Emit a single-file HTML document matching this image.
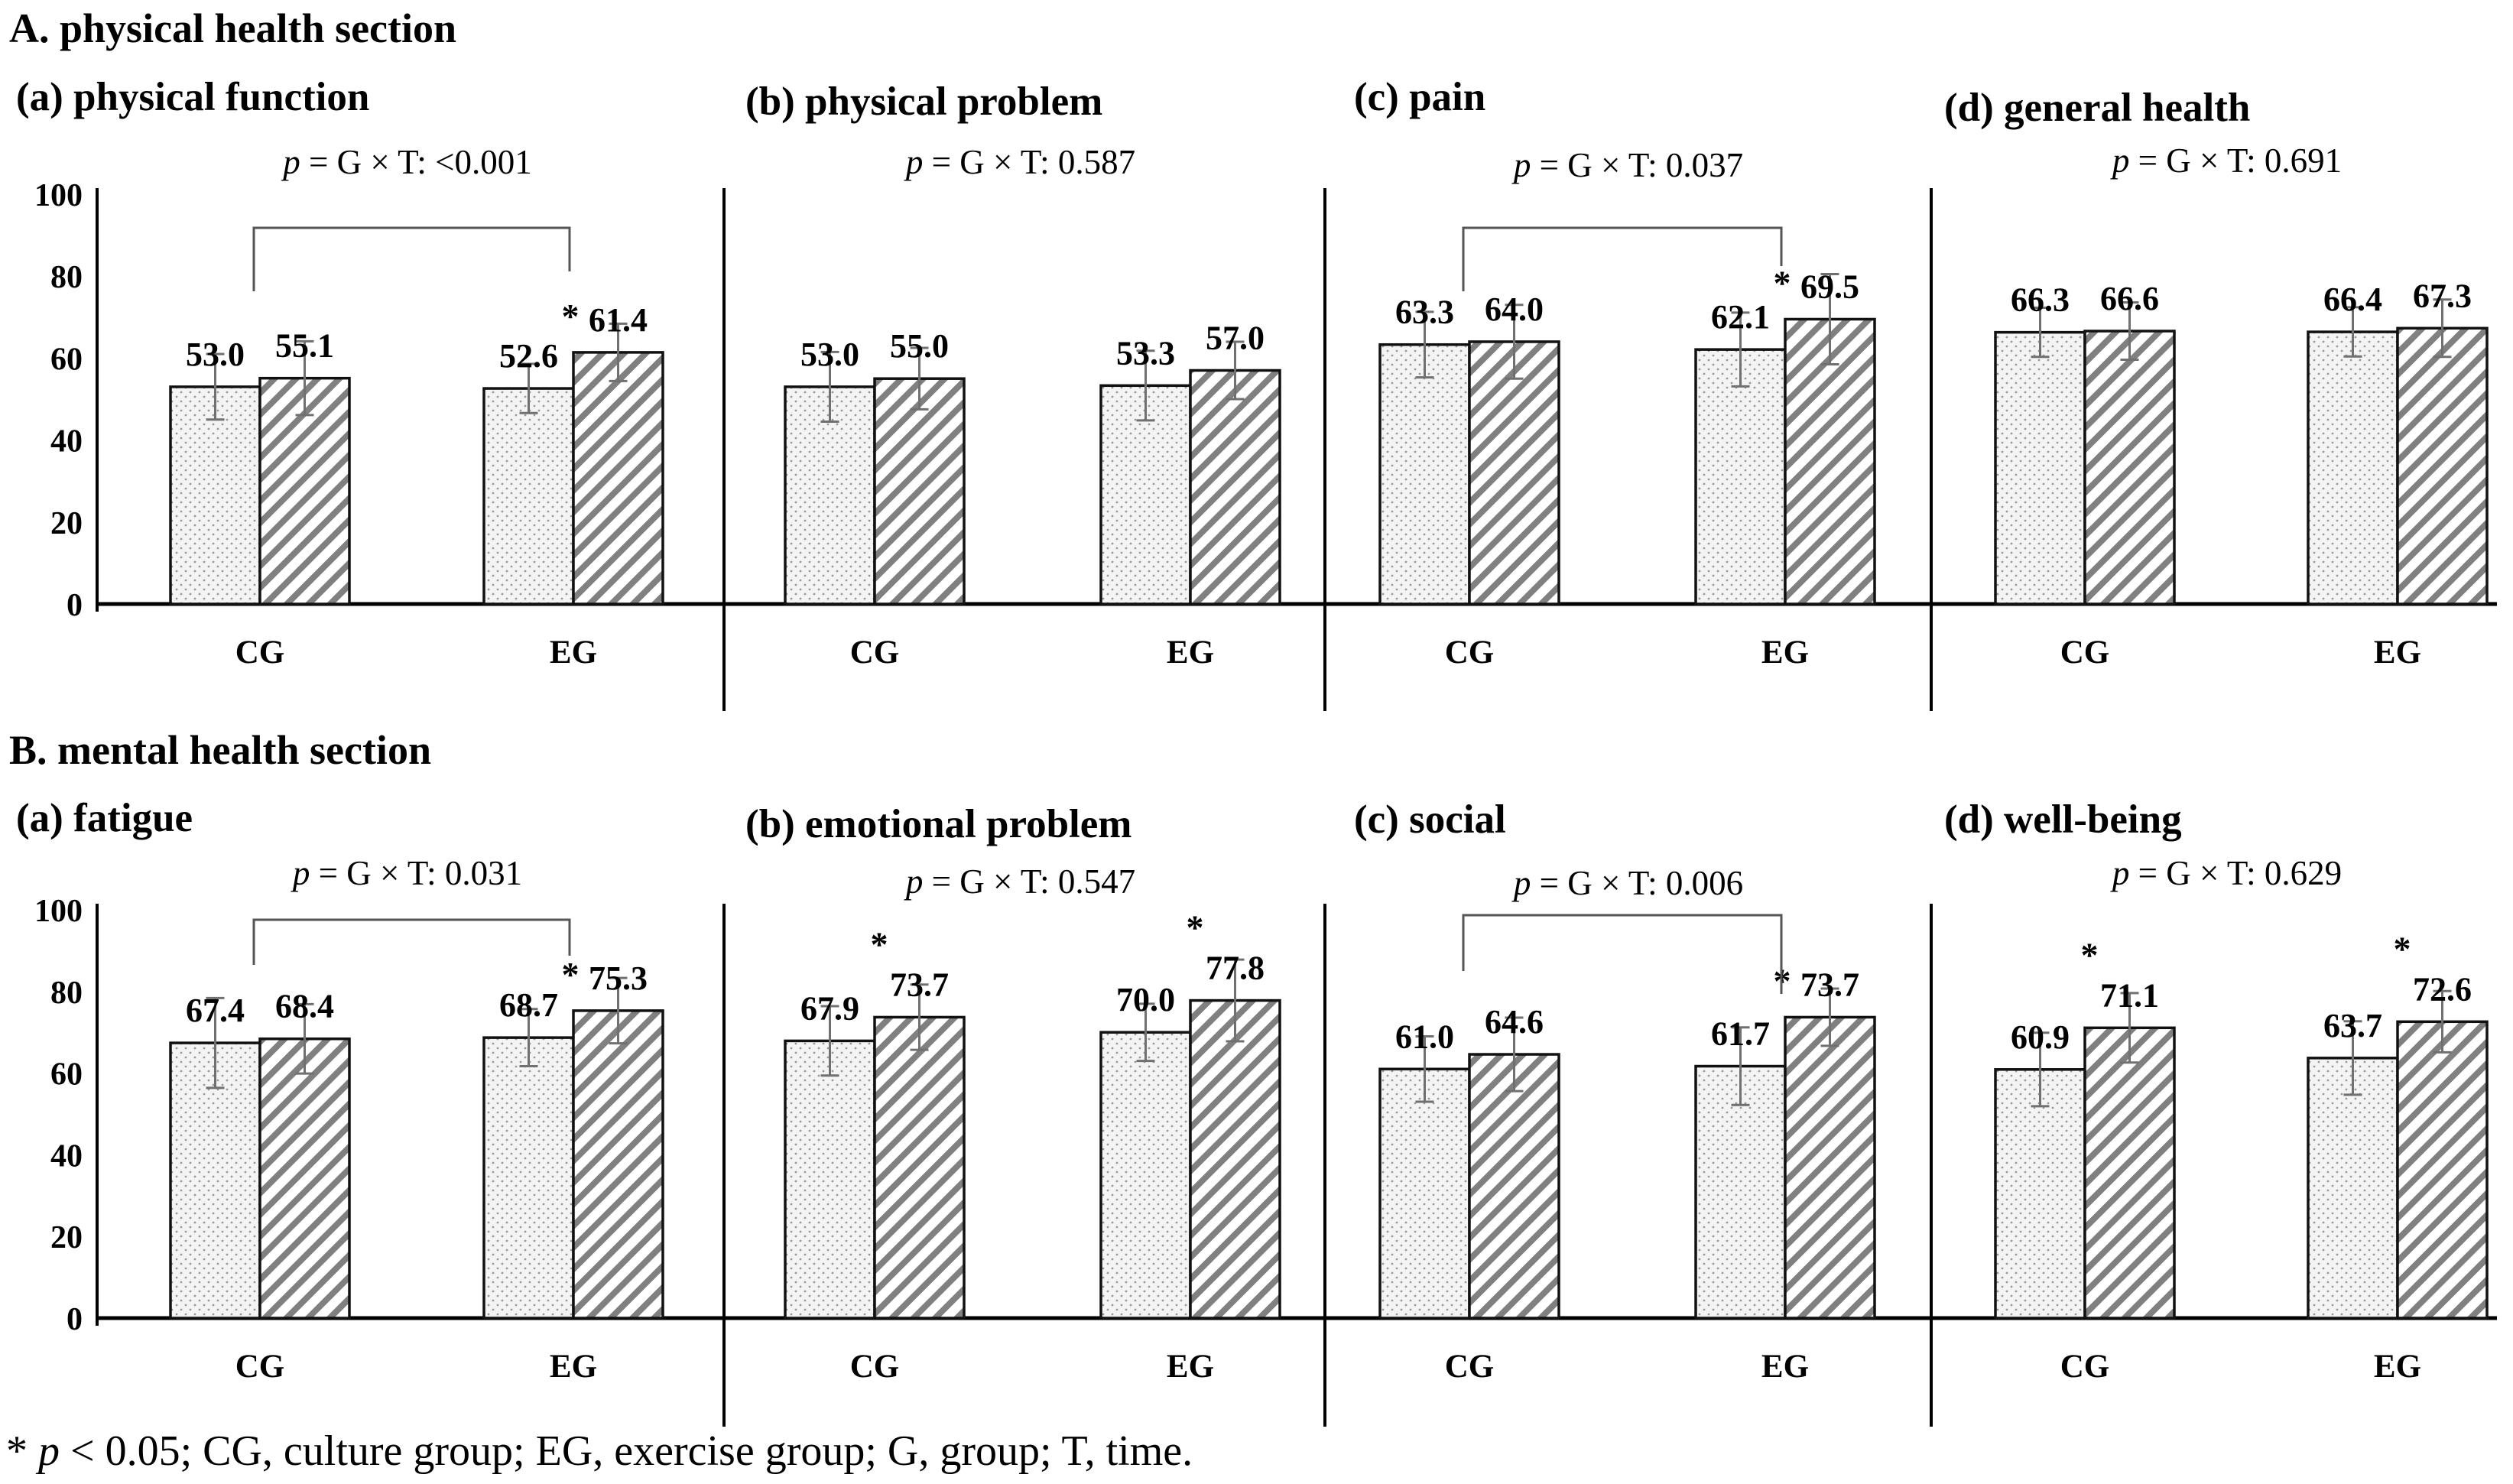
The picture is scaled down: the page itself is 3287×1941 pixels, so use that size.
<!DOCTYPE html>
<html><head><meta charset="utf-8">
<style>
html,body{margin:0;padding:0;background:#fff;}
svg{display:block;}
text{font-family:"Liberation Serif",serif;}
</style></head>
<body>
<svg id="fig" width="3287" height="1941" viewBox="0 0 3287 1941" xmlns="http://www.w3.org/2000/svg">
<defs>
<pattern id="dots" patternUnits="userSpaceOnUse" width="12" height="12">
<rect width="12" height="12" fill="#f4f4f4"/>
<circle cx="3" cy="3" r="1.4" fill="#9a9a9a"/>
<circle cx="9" cy="9" r="1.4" fill="#9a9a9a"/>
</pattern>
<pattern id="hatch" patternUnits="userSpaceOnUse" width="20" height="20" patternTransform="rotate(45)">
<rect width="20" height="20" fill="#fff"/>
<rect x="0" y="0" width="8" height="20" fill="#808080"/>
</pattern>
</defs>
<g id="root"></g>
</svg>
<script>
// ---- data ----
const categories = ["CG", "EG"];
const panelTitles = ["(a) physical function","(b) physical problem","(c) pain","(d) general health",
                     "(a) fatigue","(b) emotional problem","(c) social","(d) well-being"];
const pLabels = ["<0.001","0.587","0.037","0.691","0.031","0.547","0.006","0.629"];
// values: [CG, EG] for pre and post
const preValues  = [[53.0,52.6],[53.0,53.3],[63.3,62.1],[66.3,66.4],[67.4,68.7],[67.9,70.0],[61.0,61.7],[60.9,63.7]];
const postValues = [[55.1,61.4],[55.0,57.0],[64.0,69.5],[66.6,67.3],[68.4,75.3],[73.7,77.8],[64.6,73.7],[71.1,72.6]];
const preErr  = [[8,6],[8.5,8.5],[8,9],[6,6],[11,7],[8.5,7],[8,9.5],[9,9]];
const postErr = [[9,7],[7.5,7],[9,11],[7,7],[8.5,8],[8,10],[9,7],[8.5,7.5]];
const postStars = [[0,1],[0,0],[0,1],[0,0],[0,1],[1,1],[0,1],[1,1]];
const hasBracket = [1,0,1,0,1,0,1,0];
const yTicks = [0,20,40,60,80,100];

// ---- layout ----
const NS="http://www.w3.org/2000/svg";
const root=document.getElementById('root');
function el(tag,attrs,txt){const e=document.createElementNS(NS,tag);for(const k in attrs)e.setAttribute(k,attrs[k]);if(txt!==undefined)e.textContent=txt;root.appendChild(e);return e;}

const axisX=[127,947,1733,2526];
const rightX=[947,1733,2526,3266];
const catCenters=[[340,750],[1144,1557],[1922,2335],[2727,3136]];
const rows=[{zero:790,h100:254,divBottom:930,titleY:[126,132,126,140],pY:[212,212,216,210],
             brTop:298,brL:381,brR:355},
            {zero:1724,h100:1190,divBottom:1866,titleY:[1069,1077,1071,1071],pY:[1142,1153,1155,1142],
             brTop:1203,brL:1262,brR:1250}];
const titleX=[21,975,1771,2543];
const pX=[533,1335,2130,2913];
const BW=117;

let t;
t=el('text',{x:12,y:55,'font-size':54,'font-weight':'bold'},'A. physical health section');


t=el('text',{x:12,y:999,'font-size':54,'font-weight':'bold'},'B. mental health section');


t=el('text',{x:8,y:1916,'font-size':56},'');
t.innerHTML='* <tspan font-style="italic">p</tspan> &lt; 0.05; CG, culture group; EG, exercise group; G, group; T, time.';



for(let r=0;r<2;r++){
  const R=rows[r];
  const yScale=v=>R.zero-(v/100)*(R.zero-R.h100);
  yTicks.forEach(v=>{
    const tk=el('text',{x:108,y:yScale(v)+15,'font-size':42,'font-weight':'bold','text-anchor':'end'},String(v));
    
    
  });
  const bl=el('line',{x1:axisX[0]-2,y1:R.zero,x2:rightX[3],y2:R.zero,stroke:'#000','stroke-width':5});
  
  
  const ya=el('line',{x1:axisX[0],y1:R.h100-8,x2:axisX[0],y2:R.zero+10,stroke:'#000','stroke-width':4});
  
  
  for(let p=1;p<4;p++){
    const dv=el('line',{x1:axisX[p],y1:R.h100-8,x2:axisX[p],y2:R.divBottom,stroke:'#000','stroke-width':4});
    
    
  }
  for(let p=0;p<4;p++){
    const idx=r*4+p;
    t=el('text',{x:titleX[p],y:R.titleY[p]+18,'font-size':53,'font-weight':'bold'},panelTitles[idx]);
    
    
    t=el('text',{x:pX[p],y:R.pY[p]+15,'font-size':45,'text-anchor':'middle'},'');
    t.innerHTML='<tspan font-style="italic">p</tspan> = G × T: '+pLabels[idx].replace('<','&lt;');
    
    
    for(let c=0;c<2;c++){
      const cx=catCenters[p][c];
      const vals=[preValues[idx][c],postValues[idx][c]];
      const errs=[preErr[idx][c],postErr[idx][c]];
      for(let s=0;s<2;s++){
        const x0=s===0?cx-BW:cx;
        const top=yScale(vals[s]);
        const b=el('rect',{x:x0,y:top,width:BW,height:R.zero-top,fill:s===0?'url(#dots)':'url(#hatch)',stroke:'#111','stroke-width':3.5});
        
        
        const ex=x0+BW/2;
        const e=el('path',{d:`M${ex},${yScale(vals[s]+errs[s])}V${yScale(vals[s]-errs[s])}M${ex-12},${yScale(vals[s]+errs[s])}H${ex+12}M${ex-12},${yScale(vals[s]-errs[s])}H${ex+12}`,stroke:'#707070','stroke-width':3,fill:'none'});
        
        
        const ly=top-28;
        const lb=el('text',{x:ex,y:ly,'font-size':44,'font-weight':'bold','text-anchor':'middle'},vals[s].toFixed(1));
        
        
        if(s===1&&postStars[idx][c]){
          const sx=hasBracket[idx]?cx-4:cx+6;
          const sy=hasBracket[idx]?ly-4:ly-52;
          const st=el('text',{x:sx,y:sy,'font-size':46,'font-weight':'bold','text-anchor':'middle'},'*');
          
          
        }
      }
      const cl=el('text',{x:cx,y:R.zero+77,'font-size':43,'font-weight':'bold','text-anchor':'middle'},categories[c]);
      
      
    }
    if(hasBracket[idx]){
      const lx=catCenters[p][0]-8, rx=catCenters[p][1]-5;
      let by=R.brTop, lyb=R.brL, ryb=R.brR;
      if(r===0&&p===2){lyb=381;ryb=348;}
      if(r===1&&p===2){by=1197;lyb=1270;ryb=1300;}
      const br=el('path',{d:`M${lx},${lyb}V${by}H${rx}V${ryb}`,stroke:'#555','stroke-width':3,fill:'none'});
      
      
    }
  }
}
</script>
</body></html>
